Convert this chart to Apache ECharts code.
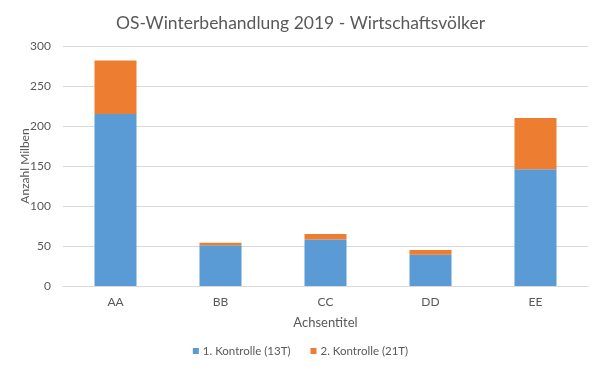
<!DOCTYPE html>
<html><head><meta charset="utf-8">
<script src="https://cdn.jsdelivr.net/npm/echarts@6/dist/echarts.min.js"></script>
<style>html,body{margin:0;padding:0;background:#fff}#c{width:601px;height:374px}</style>
</head><body><div id="c"></div>
<script>
const categories = ['AA', 'BB', 'CC', 'DD', 'EE'];
const kontrolle1 = [215, 51, 58, 39, 146];
const kontrolle2 = [67, 3, 7, 6, 64];
const yTicks = [0, 50, 100, 150, 200, 250, 300];
const seriesNames = ['1. Kontrolle (13T)', '2. Kontrolle (21T)'];

const font = 'Lato, "Open Sans", sans-serif';
const chart = echarts.init(document.getElementById('c'));
chart.setOption({
  animation: false,
  title: { text: 'OS-Winterbehandlung 2019 - Wirtschaftsvölker', left: 'center', top: 9,
    textStyle: { fontFamily: font, fontSize: 17.5, fontWeight: 'normal', color: '#595959' } },
  grid: { left: 63, right: 13, top: 46, bottom: 88 },
  legend: { bottom: 12, left: 'center', itemWidth: 6, itemHeight: 6, itemGap: 20, icon: 'rect',
    textStyle: { fontFamily: font, fontSize: 11.5, color: '#595959', padding: [0, 0, 0, -1] } },
  xAxis: { type: 'category', data: categories, name: 'Achsentitel', nameLocation: 'middle', nameGap: 30,
    nameTextStyle: { fontFamily: font, fontSize: 13, color: '#595959' },
    axisLine: { lineStyle: { color: '#d9d9d9' } }, axisTick: { show: false },
    axisLabel: { fontFamily: font, fontSize: 12, color: '#595959', margin: 10 } },
  yAxis: { type: 'value', min: yTicks[0], max: yTicks[yTicks.length - 1], interval: 50,
    name: 'Anzahl Milben', nameLocation: 'middle', nameGap: 32, nameMoveOverlap: false,
    nameTextStyle: { fontFamily: font, fontSize: 12, color: '#595959' },
    axisLine: { show: false }, axisTick: { show: false },
    axisLabel: { fontFamily: font, fontSize: 12, color: '#595959', margin: 12 },
    splitLine: { lineStyle: { color: '#d9d9d9' } } },
  series: [
    { name: seriesNames[0], type: 'bar', stack: 't', data: kontrolle1, barWidth: '40%', itemStyle: { color: '#5B9BD5' } },
    { name: seriesNames[1], type: 'bar', stack: 't', data: kontrolle2, barWidth: '40%', itemStyle: { color: '#ED7D31' } }
  ]
});
</script></body></html>
